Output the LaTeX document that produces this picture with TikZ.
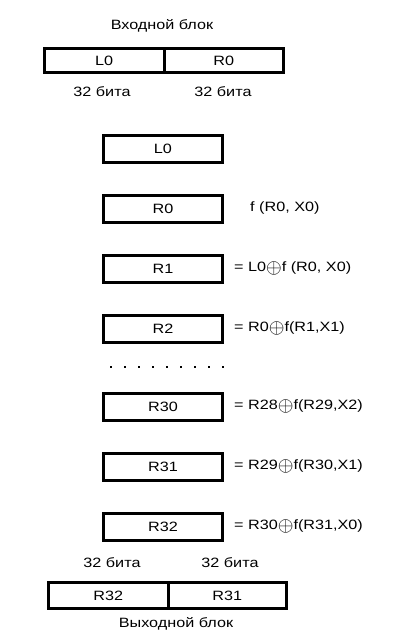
\documentclass[tikz,border=0pt]{standalone}
\usepackage{fontspec}
\setmainfont{Liberation Sans}[FakeStretch=1.2]
\newcommand{\xo}{\raisebox{-0.12em}{\scalebox{1.4}{$\oplus$}}}
\begin{document}
\begin{tikzpicture}[x=1pt,y=-1pt,
  txt/.style={font=\fontsize{13.5}{16}\selectfont, inner sep=0pt},
  box/.style={draw, line width=3pt, inner sep=0pt, txt},
  sbox/.style={box, minimum width=119pt, minimum height=27pt},
  eq/.style={txt, anchor=west},
  dot/.style={fill, minimum size=2pt, inner sep=0pt}]
\useasboundingbox (0,0) rectangle (400,640);
% input block
\node[txt] (intitle) at (162,25.5) {Входной блок};
\node[box, minimum width=119.5pt, minimum height=24pt] (inL) at (104.25,60.5) {L0};
\node[box, minimum width=119.5pt, minimum height=24pt] (inR) at (223.75,60.5) {R0};
\node[txt] (inbl) at (102,92) {32 бита};
\node[txt] (inbr) at (223,92) {32 бита};
% stack
\node[sbox] (L0) at (163,148.5) {L0};
\node[sbox] (R0) at (163,208.5) {R0};
\node[sbox] (R1) at (163,268.5) {R1};
\node[sbox] (R2) at (163,328.5) {R2};
\node[sbox] (R30) at (163,406.5) {R30};
\node[sbox] (R31) at (163,466.5) {R31};
\node[sbox] (R32) at (163,526.5) {R32};
\node[eq] (e0) at (250,208.5) {f (R0, X0)};
\node[eq] (e1) at (234,268.5) {= L0\xo f (R0, X0)};
\node[eq] (e2) at (234,328.5) {= R0\xo f(R1,X1)};
\node[eq] (e30) at (234,406.5) {= R28\xo f(R29,X2)};
\node[eq] (e31) at (234,466.5) {= R29\xo f(R30,X1)};
\node[eq] (e32) at (234,526.5) {= R30\xo f(R31,X0)};
\foreach \i in {0,...,8} {
  \node[dot] (d\i) at (111+14*\i,367) {};
}
% output block
\node[txt] (outbl) at (112,563) {32 бита};
\node[txt] (outbr) at (230,563) {32 бита};
\node[box, minimum width=119.5pt, minimum height=26pt] (outL) at (108.25,595.5) {R32};
\node[box, minimum width=118.5pt, minimum height=26pt] (outR) at (227.25,595.5) {R31};
\node[txt] (outtitle) at (176,624) {Выходной блок};
\end{tikzpicture}
\end{document}
